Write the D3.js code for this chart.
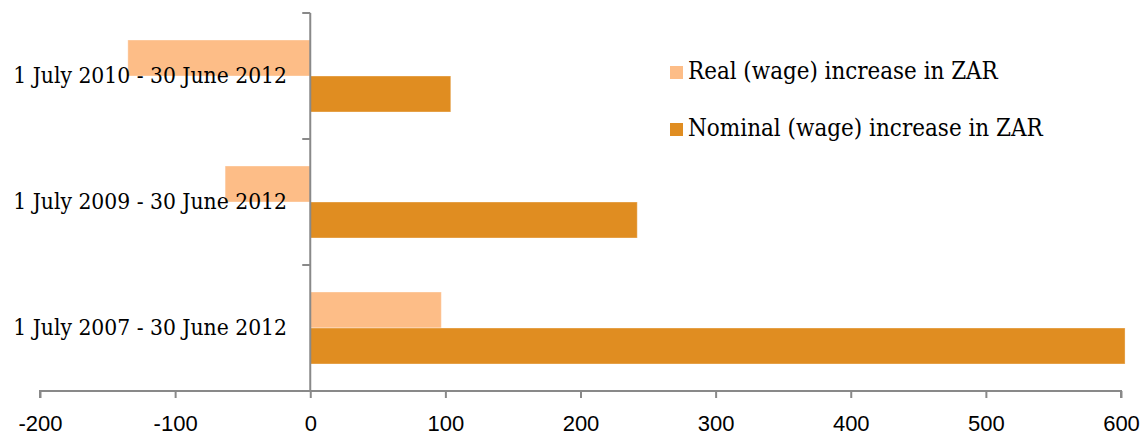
<!DOCTYPE html>
<html>
<head>
<meta charset="utf-8">
<script src="https://cdn.jsdelivr.net/npm/d3@7"></script>
<style>
  html, body { margin: 0; padding: 0; background: #fff; }
  svg { display: block; }
</style>
</head>
<body>
<svg id="chart" width="1147" height="435"></svg>
<script>
// Wage increases over three periods ending 30 June 2012 (ZAR)
const categories = [
  "1 July 2010 - 30 June 2012",
  "1 July 2009 - 30 June 2012",
  "1 July 2007 - 30 June 2012"
];
const seriesNames = ["Real (wage) increase in ZAR", "Nominal (wage) increase in ZAR"];
const realValues = [-135, -63, 97];
const nominalValues = [104, 242, 603];
const xTicks = [-200, -100, 0, 100, 200, 300, 400, 500, 600];

const colors = { real: "#FDBD87", nominal: "#E08D21" };
const axisColor = "#898989";

const svg = d3.select("#chart");

const x = d3.scaleLinear().domain([-200, 600]).range([40, 1121]);
const y0 = d3.scaleBand().domain(categories).range([13, 391]).padding(0);
const y1 = d3.scaleBand().domain(seriesNames).range([0, y0.bandwidth()])
  .paddingInner(0).paddingOuter(0.75);

const rows = categories.map((c, i) => ({
  cat: c,
  values: [
    { s: seriesNames[0], v: realValues[i], color: colors.real },
    { s: seriesNames[1], v: nominalValues[i], color: colors.nominal }
  ]
}));

// bars
const groups = svg.append("g").selectAll("g").data(rows).join("g")
  .attr("transform", d => `translate(0,${y0(d.cat)})`);
groups.selectAll("rect").data(d => d.values).join("rect")
  .attr("x", d => x(Math.min(0, d.v)))
  .attr("width", d => Math.abs(x(d.v) - x(0)))
  .attr("y", d => y1(d.s))
  .attr("height", y1.bandwidth())
  .attr("fill", d => d.color)
  .attr("stroke", "#ffffff")
  .attr("stroke-opacity", 0.35)
  .attr("stroke-width", 1);

// bottom value axis (plain hyphen for negatives)
const xAxis = svg.append("g")
  .attr("transform", `translate(0,${391})`)
  .call(d3.axisBottom(x).tickValues(xTicks).tickSize(7).tickPadding(17).tickFormat(d => String(d)));
xAxis.select(".domain").attr("stroke", axisColor).attr("stroke-width", 2)
  .attr("d", `M${x(-200)},7V0H${x(600)}V7`);
xAxis.selectAll(".tick line").attr("stroke", axisColor).attr("stroke-width", 2);
xAxis.selectAll(".tick text")
  .attr("font-family", "'Liberation Sans', Arial, sans-serif")
  .attr("font-size", 22)
  .attr("fill", "#000");

// vertical category axis at zero
const boundaries = [13, 139, 265, 391];
const yAxis = svg.append("g");
yAxis.append("line")
  .attr("x1", x(0)).attr("x2", x(0)).attr("y1", 13).attr("y2", 391)
  .attr("stroke", axisColor).attr("stroke-width", 2);
yAxis.selectAll("line.tk").data(boundaries).join("line").attr("class", "tk")
  .attr("x1", x(0) - 8).attr("x2", x(0)).attr("y1", d => d).attr("y2", d => d)
  .attr("stroke", axisColor).attr("stroke-width", 2);

// category labels
const serif = "'DejaVu Serif Condensed', 'DejaVu Serif', 'Liberation Serif', serif";
const labels = svg.append("g").selectAll("text").data(categories).join("text")
  .attr("x", 287)
  .attr("y", d => y0(d) + y0.bandwidth() / 2 + 7)
  .attr("text-anchor", "end")
  .attr("font-family", serif)
  .attr("font-stretch", "condensed")
  .attr("font-size", 20)
  .attr("fill", "#000")
  .text(d => d);

function fitWidth(sel, target) {
  sel.each(function () {
    const t = d3.select(this);
    const fs = +t.attr("font-size");
    const w = this.getComputedTextLength();
    if (w > 0) t.attr("font-size", (fs * target / w).toFixed(2));
  });
}
fitWidth(labels, 274);

// legend
const legend = svg.append("g");
const legendRows = [
  { name: seriesNames[0], color: colors.real, y: 72, w: 310 },
  { name: seriesNames[1], color: colors.nominal, y: 129, w: 355 }
];
legendRows.forEach(r => {
  legend.append("rect")
    .attr("x", 670).attr("y", r.y - 6).attr("width", 13).attr("height", 13)
    .attr("fill", r.color);
  const t = legend.append("text")
    .attr("x", 688).attr("y", r.y + 7)
    .attr("font-family", serif)
    .attr("font-stretch", "condensed")
    .attr("font-size", 20)
    .attr("fill", "#000")
    .text(r.name);
  fitWidth(t, r.w);
});
</script>
</body>
</html>
